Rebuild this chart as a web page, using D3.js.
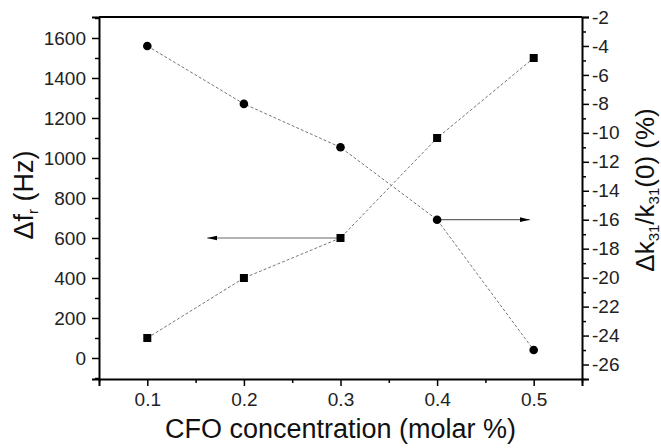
<!DOCTYPE html>
<html>
<head>
<meta charset="utf-8">
<script src="https://cdn.jsdelivr.net/npm/d3@7"></script>
<style>
  body { margin: 0; background: #fff; }
  svg { display: block; font-family: "Liberation Sans", Arial, sans-serif; }
</style>
</head>
<body>
<div id="chart"></div>
<script>
// data
const concentration = [0.1, 0.2, 0.3, 0.4, 0.5];
const deltaFr = [100, 400, 600, 1100, 1500];        // Hz, squares, left axis
const deltaK31 = [-4, -8, -11, -16, -25];           // %, circles, right axis
const xTicks = [0.1, 0.2, 0.3, 0.4, 0.5];
const leftTicks = [0, 200, 400, 600, 800, 1000, 1200, 1400, 1600];
const rightTicks = [-26, -24, -22, -20, -18, -16, -14, -12, -10, -8, -6, -4, -2];
// arrows: start at a point, run horizontally to xEnd
const arrowLeft = { x: 0.3, xEnd: 0.162, y: 600 };      // left axis units
const arrowRight = { x: 0.4, xEnd: 0.496, y: -16 };     // right axis units

const width = 661, height = 448;
const margin = { top: 17, right: 79, bottom: 69, left: 99 };
const w = width - margin.left - margin.right;
const h = height - margin.top - margin.bottom;

const x = d3.scaleLinear().domain([0.05, 0.55]).range([0, w]);
const yL = d3.scaleLinear().domain([-105, 1705]).range([h, 0]);
const yR = d3.scaleLinear().domain([-27, -2]).range([h, 0]);

const svg = d3.select("#chart").append("svg")
    .attr("width", width)
    .attr("height", height);

const defs = svg.append("defs");
defs.append("marker")
    .attr("id", "head")
    .attr("viewBox", "0 0 10 6")
    .attr("refX", 10).attr("refY", 3)
    .attr("markerWidth", 10).attr("markerHeight", 6)
    .attr("markerUnits", "userSpaceOnUse")
    .attr("orient", "auto")
    .append("path")
    .attr("d", "M0,0.6 L10,3 L0,5.4 Z")
    .attr("fill", "#000");

const g = svg.append("g")
    .attr("transform", "translate(" + margin.left + "," + margin.top + ")");

// minor ticks (no labels)
g.append("g").attr("transform", "translate(0," + h + ")")
    .call(d3.axisBottom(x).tickValues([0.05, 0.15, 0.25, 0.35, 0.45, 0.55]).tickSize(4).tickFormat(""))
    .call(a => a.select(".domain").remove());
g.append("g")
    .call(d3.axisLeft(yL).tickValues([-100, 100, 300, 500, 700, 900, 1100, 1300, 1500, 1700]).tickSize(4).tickFormat(""))
    .call(a => a.select(".domain").remove());
g.append("g").attr("transform", "translate(" + w + ",0)")
    .call(d3.axisRight(yR).tickValues(d3.range(-27, -2, 2)).tickSize(4).tickFormat(""))
    .call(a => a.select(".domain").remove());

// major axes
const xAxis = g.append("g").attr("transform", "translate(0," + h + ")")
    .call(d3.axisBottom(x).tickValues(xTicks).tickSize(7).tickPadding(7).tickFormat(d3.format(".1f")));
const lAxis = g.append("g")
    .call(d3.axisLeft(yL).tickValues(leftTicks).tickSize(7).tickPadding(6).tickFormat(d3.format("d")));
const rAxis = g.append("g").attr("transform", "translate(" + w + ",0)")
    .call(d3.axisRight(yR).tickValues(rightTicks).tickSize(7).tickPadding(3).tickFormat(d => d3.format("d")(d).replace("−", "-")));

g.selectAll(".tick line").attr("stroke", "#000").attr("stroke-width", 1.5);
g.selectAll(".domain").attr("stroke-width", 2).attr("stroke", "#000");
[xAxis, lAxis, rAxis].forEach(a => a.selectAll("text")
    .attr("font-size", 19).attr("fill", "#222")
    .attr("font-family", "Liberation Sans, Arial, sans-serif"));

// top frame
g.append("line").attr("x1", 0).attr("x2", w).attr("y1", 0).attr("y2", 0)
    .attr("stroke", "#000").attr("stroke-width", 2);

// dotted connecting lines
const lineF = d3.line().x((d, i) => x(concentration[i])).y(d => yL(d));
const lineK = d3.line().x((d, i) => x(concentration[i])).y(d => yR(d));
g.append("path").datum(deltaFr).attr("d", lineF)
    .attr("fill", "none").attr("stroke", "#777").attr("stroke-width", 1).attr("stroke-dasharray", "3,2");
g.append("path").datum(deltaK31).attr("d", lineK)
    .attr("fill", "none").attr("stroke", "#777").attr("stroke-width", 1).attr("stroke-dasharray", "3,2");

// arrows
g.append("line")
    .attr("x1", x(arrowLeft.x)).attr("x2", x(arrowLeft.xEnd))
    .attr("y1", yL(arrowLeft.y)).attr("y2", yL(arrowLeft.y))
    .attr("stroke", "#666").attr("stroke-width", 1.2).attr("marker-end", "url(#head)");
g.append("line")
    .attr("x1", x(arrowRight.x)).attr("x2", x(arrowRight.xEnd))
    .attr("y1", yR(arrowRight.y)).attr("y2", yR(arrowRight.y))
    .attr("stroke", "#666").attr("stroke-width", 1.2).attr("marker-end", "url(#head)");

// markers
g.selectAll(".sq").data(deltaFr).enter().append("rect")
    .attr("x", (d, i) => x(concentration[i]) - 4)
    .attr("y", d => yL(d) - 4)
    .attr("width", 8).attr("height", 8)
    .attr("fill", "#000");
g.selectAll(".ci").data(deltaK31).enter().append("circle")
    .attr("cx", (d, i) => x(concentration[i]))
    .attr("cy", d => yR(d))
    .attr("r", 4.3)
    .attr("fill", "#000");

// axis titles
svg.append("text")
    .attr("x", margin.left + w / 2).attr("y", 438)
    .attr("text-anchor", "middle")
    .attr("font-size", 27).attr("fill", "#111")
    .text("CFO concentration (molar %)");

const lt = svg.append("text")
    .attr("transform", "translate(33,195) rotate(-90)")
    .attr("text-anchor", "middle")
    .attr("font-size", 27).attr("fill", "#111");
lt.append("tspan").text("Δf");
lt.append("tspan").attr("font-size", 15).attr("dy", 5).text("r");
lt.append("tspan").attr("dy", -5).text(" (Hz)");

const rt = svg.append("text")
    .attr("transform", "translate(654,190) rotate(-90)")
    .attr("text-anchor", "middle")
    .attr("font-size", 26).attr("fill", "#111");
rt.append("tspan").text("Δk");
rt.append("tspan").attr("font-size", 15).attr("dy", 5).text("31");
rt.append("tspan").attr("dy", -5).text("/k");
rt.append("tspan").attr("font-size", 15).attr("dy", 5).text("31");
rt.append("tspan").attr("dy", -5).text("(0) (%)");
</script>
</body>
</html>
